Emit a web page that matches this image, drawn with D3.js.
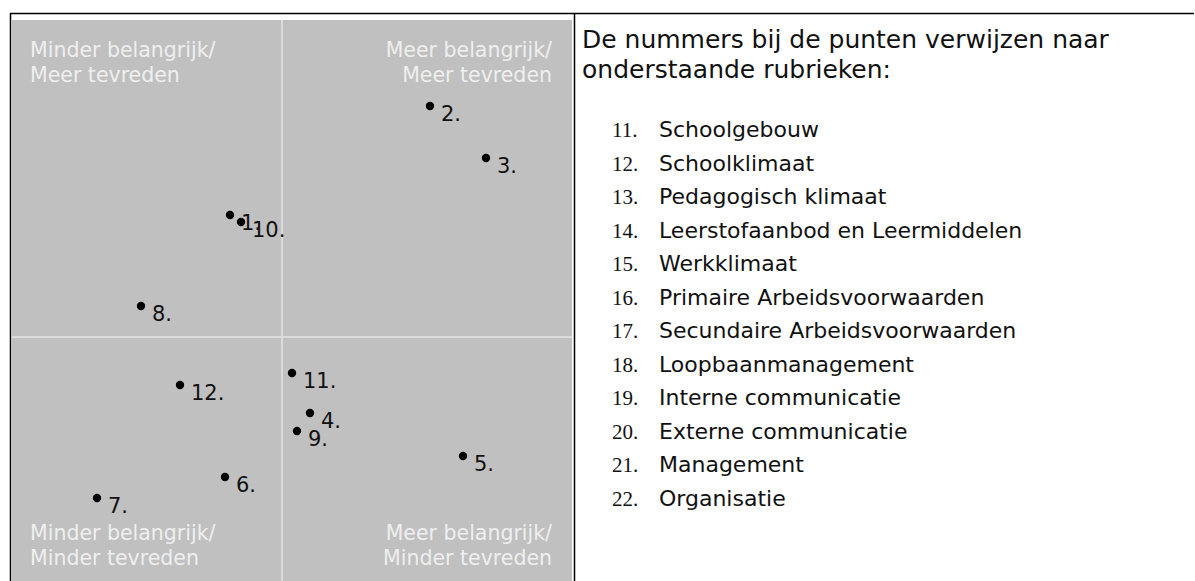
<!DOCTYPE html>
<html>
<head>
<meta charset="utf-8">
<script src="https://cdn.jsdelivr.net/npm/d3@7"></script>
<style>
  html, body { margin: 0; padding: 0; background: #ffffff; }
  svg { display: block; }
</style>
</head>
<body>
<svg id="chart" width="1195" height="581"></svg>
<script>
// ---- data ----
const pointLabels = ["1.", "2.", "3.", "4.", "5.", "6.", "7.", "8.", "9.", "10.", "11.", "12."];
const importance  = [-0.52, 1.48, 2.04, 0.28, 1.81, -0.57, -1.85, -1.41, 0.15, -0.41, 0.10, -1.02];
const satisfaction= [1.22, 2.31, 1.79, -0.76, -1.19, -1.40, -1.61, 0.31, -0.94, 1.15, -0.36, -0.48];
const quadrantTexts = [
  ["Minder belangrijk/", "Meer tevreden"],
  ["Meer belangrijk/", "Meer tevreden"],
  ["Minder belangrijk/", "Minder tevreden"],
  ["Meer belangrijk/", "Minder tevreden"]
];
const introLines = ["De nummers bij de punten verwijzen naar", "onderstaande rubrieken:"];
const legendNumbers = ["11.", "12.", "13.", "14.", "15.", "16.", "17.", "18.", "19.", "20.", "21.", "22."];
const legendNames = ["Schoolgebouw", "Schoolklimaat", "Pedagogisch klimaat", "Leerstofaanbod en Leermiddelen",
  "Werkklimaat", "Primaire Arbeidsvoorwaarden", "Secundaire Arbeidsvoorwaarden", "Loopbaanmanagement",
  "Interne communicatie", "Externe communicatie", "Management", "Organisatie"];

// ---- layout ----
const svg = d3.select("#chart");
const plot = { x0: 12, x1: 572, y0: 20, y1: 581 };
const x = d3.scaleLinear().domain([-2.70, 2.90]).range([plot.x0, plot.x1]);
const y = d3.scaleLinear().domain([-2.44, 3.17]).range([plot.y1, plot.y0]);

// table borders
svg.append("line").attr("x1", 10).attr("x2", 1194).attr("y1", 13.5).attr("y2", 13.5)
  .attr("stroke", "#000").attr("stroke-width", 1.5);
svg.append("line").attr("x1", 10.5).attr("x2", 10.5).attr("y1", 13).attr("y2", 581)
  .attr("stroke", "#000").attr("stroke-width", 1.5);
svg.append("line").attr("x1", 574.5).attr("x2", 574.5).attr("y1", 13).attr("y2", 581)
  .attr("stroke", "#000").attr("stroke-width", 1.5);

// gray plot background
svg.append("rect").attr("x", plot.x0).attr("y", plot.y0)
  .attr("width", plot.x1 - plot.x0).attr("height", plot.y1 - plot.y0)
  .attr("fill", "#c0c0c0");

// dividers
svg.append("line").attr("x1", x(0)).attr("x2", x(0)).attr("y1", plot.y0).attr("y2", plot.y1)
  .attr("stroke", "#dcdcdc").attr("stroke-width", 2);
svg.append("line").attr("x1", plot.x0).attr("x2", plot.x1).attr("y1", y(0)).attr("y2", y(0))
  .attr("stroke", "#dcdcdc").attr("stroke-width", 2);

// quadrant labels
const qFont = { family: "DejaVu Sans, Verdana, sans-serif", size: 20.5 };
const qPos = [
  { x: 30, y: 57, anchor: "start" },
  { x: 552, y: 57, anchor: "end" },
  { x: 30, y: 540, anchor: "start" },
  { x: 552, y: 540, anchor: "end" }
];
quadrantTexts.forEach((lines, i) => {
  const t = svg.append("text")
    .attr("x", qPos[i].x).attr("y", qPos[i].y)
    .attr("text-anchor", qPos[i].anchor)
    .attr("font-family", qFont.family).attr("font-size", qFont.size)
    .attr("fill", "#efefef");
  lines.forEach((ln, j) => {
    t.append("tspan").attr("x", qPos[i].x).attr("dy", j === 0 ? 0 : 24.5).text(ln);
  });
});

// points
const pts = pointLabels.map((l, i) => ({ label: l, x: importance[i], y: satisfaction[i] }));
const g = svg.append("g");
g.selectAll("circle").data(pts).join("circle")
  .attr("cx", d => x(d.x)).attr("cy", d => y(d.y)).attr("r", 4.2).attr("fill", "#000");
g.selectAll("text").data(pts).join("text")
  .attr("x", d => x(d.x) + 11).attr("y", d => y(d.y) + 15)
  .attr("font-family", "DejaVu Sans, Verdana, sans-serif").attr("font-size", 21)
  .attr("fill", "#111").text(d => d.label);

// legend text
const lFont = "DejaVu Sans, sans-serif";
introLines.forEach((ln, i) => {
  svg.append("text").attr("x", 582).attr("y", 48 + i * 30)
    .attr("font-family", lFont).attr("font-size", 25).attr("fill", "#111").text(ln);
});
legendNames.forEach((name, i) => {
  const yy = 137 + i * 33.5;
  svg.append("text").attr("x", 612).attr("y", yy)
    .attr("font-family", "Liberation Serif, Times New Roman, serif").attr("font-size", 21)
    .attr("fill", "#111").text(legendNumbers[i]);
  svg.append("text").attr("x", 659).attr("y", yy)
    .attr("font-family", lFont).attr("font-size", 22).attr("fill", "#111").text(name);
});
</script>
</body>
</html>
